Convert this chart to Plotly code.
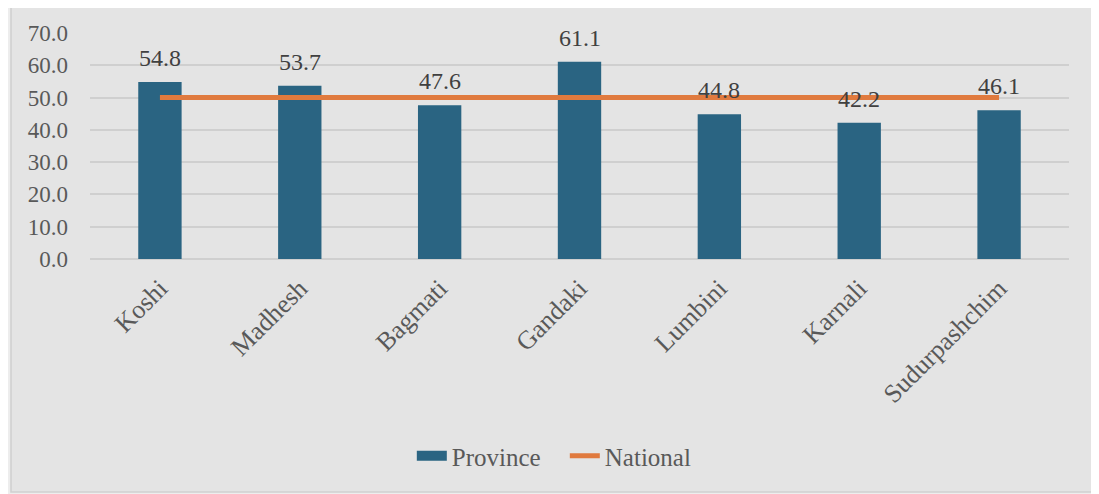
import plotly.graph_objects as go

provinces = ["Koshi", "Madhesh", "Bagmati", "Gandaki", "Lumbini", "Karnali", "Sudurpashchim"]
province_values = [54.8, 53.7, 47.6, 61.1, 44.8, 42.2, 46.1]
national_values = [50.0, 50.0, 50.0, 50.0, 50.0, 50.0, 50.0]
y_ticks = [0, 10, 20, 30, 40, 50, 60, 70]
y_tick_labels = [f"{v:.1f}" for v in y_ticks]

FONT = "Liberation Serif"
BAR = "#2A6482"
ORANGE = "#E07A3E"
INNER = "#E4E4E4"

fig = go.Figure()
fig.add_trace(go.Bar(
    x=provinces, y=province_values, name="Province", showlegend=False,
    legendgroup="p", marker=dict(color=BAR, line=dict(width=0)),
))
# legend-only swatch for Province (wide rectangle as in the reference)
fig.add_trace(go.Scatter(
    x=[None], y=[None], name="Province", mode="lines", legendgroup="p",
    line=dict(color=BAR, width=14),
))
fig.add_trace(go.Scatter(
    x=provinces, y=national_values, name="National", mode="lines",
    line=dict(color=ORANGE, width=5),
))

for p, v in zip(provinces, province_values):
    fig.add_annotation(x=p, y=v, text=f"{v:.1f}", showarrow=False,
                       yanchor="bottom", yshift=9,
                       font=dict(family=FONT, size=24, color="#404040"))

# chart border
fig.add_shape(type="rect", xref="paper", yref="paper",
              x0=-0.0807, x1=1.0245, y0=-1.031, y1=1.124,
              line=dict(color="#CFCFCF", width=1.5), fillcolor=INNER,
              layer="below")

fig.update_layout(
    width=1091, height=486,
    margin=dict(l=82, r=30, t=25, b=235),
    paper_bgcolor="#EDEDED",
    plot_bgcolor=INNER,
    font=dict(family=FONT, size=22, color="#595959"),
    bargap=0.69,
    showlegend=True,
    legend=dict(orientation="h", x=0.485, xanchor="center", y=-0.872, yanchor="middle",
                font=dict(family=FONT, size=25, color="#595959"),
                entrywidth=108, entrywidthmode="pixels",
                bgcolor="rgba(0,0,0,0)", traceorder="normal"),
)
fig.update_xaxes(tickangle=-45, showgrid=False, showline=False, ticks="",
                 ticklabelstandoff=8,
                 tickfont=dict(family=FONT, size=26, color="#595959"))
fig.update_yaxes(range=[0, 70], tickvals=y_ticks, ticktext=y_tick_labels,
                 showgrid=True, gridcolor="#CFCFCF", gridwidth=1.5,
                 zeroline=True, zerolinecolor="#CFCFCF", zerolinewidth=1.5,
                 showline=False, ticks="", ticklabelstandoff=21,
                 tickfont=dict(family=FONT, size=23, color="#595959"))

fig.write_html("out.html")
